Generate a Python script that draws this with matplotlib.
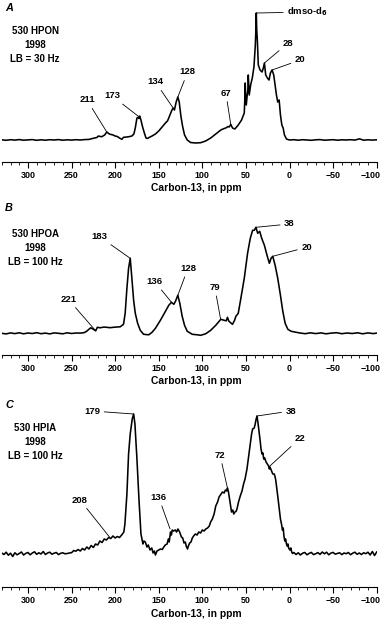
import matplotlib
matplotlib.use("Agg")
import matplotlib.pyplot as plt
from matplotlib.ticker import MultipleLocator
from matplotlib.transforms import ScaledTranslation

plt.rcParams['font.family'] = ['Liberation Sans Narrow', 'Liberation Sans', 'DejaVu Sans']
plt.rcParams['font.weight'] = 'bold'

W, H = 384, 622

# ---- spectrum A: 530 HPON, LB = 30 Hz ----
a_ppm = [330, 325, 320, 315, 310, 305, 300, 295, 290, 285, 280, 275, 270, 265, 260, 255, 250, 245, 240, 235, 230, 226,
         221, 219.2, 217, 215.4, 212, 209.6, 207.5, 205.8, 203, 200, 197.5, 195, 192.3, 190.4, 188.5, 186.5, 183, 180.8,
         178.5, 176.9, 175, 173.5, 172.7, 171.9, 170.4, 168.5, 166.5, 164.6, 163, 161.5, 157.7, 153.8, 150, 146.2, 142.3,
         140, 138.5, 135.8, 134.5, 133.5, 132, 130, 128.1, 126.5, 124.6, 122.7, 120.4, 117.3, 113.5, 107.7, 101.9, 96.2,
         90.4, 84.6, 78.8, 75, 73.1, 70.5, 69.2, 67.3, 65.4, 62.7, 58.8, 55, 51.9, 51.2, 50.8, 50.2, 49.6, 48.5, 47.8,
         47.3, 46.2, 44.6, 42.7, 40.8, 39.2, 38.4, 38.1, 37.6, 36.9, 35.8, 33.8, 31.5, 30, 28.8, 27.3, 25.4, 23.5, 21.9,
         20, 18.1, 16.5, 15, 13.5, 11.9, 10.4, 8.8, 7.3, 5.8, 3.5, 0, -5, -10, -15, -20, -25, -30, -35, -40, -45, -50,
         -55, -60, -65, -70, -75, -78, -80, -83, -85, -90, -95, -100]
a_int = [0.2, -0.3, 0.3, -0.1, 0.4, -0.2, 0.1, 0.4, -0.3, 0.2, -0.2, 0.3, 0.0, 0.4, -0.2, 0.2, -0.1, 0.3, 0.0, 0.4, 0.6, 1.5,
         2.5, 4.0, 3.5, 3.3, 5.0, 8.0, 6.5, 5.7, 5.2, 4.0, 3.5, 2.0, 0.7, 2.7, 2.8, 3.0, 3.5, 4.0,
         6.0, 12.0, 22.0, 22.7, 21.5, 24.0, 20.0, 13.0, 7.0, 2.0, 1.5, 2.3, 4.0, 6.0, 9.0, 13.0, 17.0,
         19.0, 22.0, 28.0, 30.5, 32.0, 30.0, 38.0, 43.0, 38.0, 24.0, 14.0, 5.0, 0.0, -2.5, -3.0, -2.7, -1.0,
         2.0, 6.0, 10.0, 11.5, 12.0, 13.5, 13.0, 15.5, 12.0, 11.0, 15.0, 20.0, 27.0, 42.0, 57.0, 40.0, 35.0, 45.0, 50.0,
         65.0, 45.0, 55.0, 62.0, 73.0, 95.0, 115.0, 127.0, 110.0, 100.0, 75.0, 70.0, 68.0, 72.0, 77.0, 65.0, 62.0, 60.0, 67.0,
         70.0, 65.0, 55.0, 45.0, 38.0, 40.0, 25.0, 15.0, 12.0, 5.0, 1.0, 0.0, 0.3, -0.2, 0.3, 0.0, -0.3, 0.2, 0.4, -0.2, 0.1, 0.3,
         -0.2, 0.2, 0.0, 0.3, -0.1, 0.6, 1.2, 0.4, -0.2, 0.2, -0.1, 0.2]

# ---- spectrum B: 530 HPOA, LB = 100 Hz ----
b_ppm = [330, 325, 320, 315, 310, 305, 300, 295, 290, 285, 280, 275, 270, 265, 260, 255, 250, 245, 240, 236.5,
         234.6, 232, 230.8, 228, 225, 222.3, 220.4, 217.3, 213, 209.6, 206, 201.9, 198, 194.2, 190.4, 188.5, 186.5,
         184.6, 182.7, 180.8, 178.8, 176.9, 174.2, 171.2, 167.3, 161.5, 157.7, 153.8, 148.1, 142.3, 138.5, 135.4,
         132.7, 130.8, 128.1, 125.8, 123.1, 120.4, 117.3, 111.5, 105.8, 101.9, 96.2, 90.4, 84.6, 78.8, 75, 72.5, 71.2,
         69.5, 68.1, 65.4, 63, 61.5, 58.8, 55.8, 51.9, 48.1, 45, 42.3, 40.4, 38.5, 36.5, 34.2, 31.9, 28.8, 25.8, 23.1,
         21.2, 19.2, 16.5, 13.5, 10.4, 7.7, 5, 1.9, -1.9, -7.7, -12, -18, -24, -30, -36, -42, -48, -54, -60, -66, -72,
         -78, -84, -90, -96, -100]
b_int = [0.0, -0.6, 0.4, -0.3, 0.5, -0.5, 0.3, -0.2, 0.6, -0.4, 0.2, -0.6, 0.4, 0.0, -0.5, 0.5, -0.2, 0.3, 0.2, 0.5,
         1.0, 2.5, 3.5, 5.5, 4.0, 2.5, 6.0, 5.5, 6.2, 6.0, 5.6, 6.0, 6.3, 6.5, 9.0, 20.0, 45.0,
         65.0, 75.0, 55.0, 33.0, 20.0, 10.0, 3.0, -1.0, -1.5, 1.0, 5.0, 13.0, 22.0, 28.0, 31.0,
         29.0, 32.0, 38.0, 30.0, 17.0, 8.0, 2.0, -1.0, -1.5, -2.0, -0.5, 3.0, 8.0, 14.0, 13.0, 12.5, 16.0,
         12.0, 11.0, 9.0, 13.0, 17.0, 20.0, 35.0, 55.0, 80.0, 95.0, 103.0, 103.0, 106.0, 100.0, 102.0, 95.0, 88.0, 78.0, 70.0,
         75.0, 77.0, 68.0, 55.0, 38.0, 22.0, 10.0, 4.0, 2.0, 1.0, 0.3, -0.4, 0.5, -0.3, 0.4, -0.5, 0.2, 0.6, -0.4, 0.3, -0.2,
         0.5, -0.5, 0.4, -0.3, 0.2]

# ---- spectrum C: 530 HPIA, LB = 100 Hz ----
c_ppm = [330, 327.5, 325, 322.5, 320, 317.5, 315, 312.5, 310, 307.5, 305, 302.5, 300, 297.5, 295, 292.5, 290, 287.5,
         285, 282.5, 280, 277.5, 275, 272.5, 270, 267.5, 265, 262.5, 260, 257.5, 255, 252.5, 250, 247.5, 245, 242.5,
         240, 237.5, 235, 232.5, 230, 227.5, 225, 222.5, 220, 217.5, 215, 212.5, 210, 207.5, 205, 202.5, 200, 197.5,
         195, 192.5, 190, 188.8, 186.5, 184.6, 182.7, 180.4, 179.5, 178.8, 177.3, 175, 172.7, 170.4, 168.1, 167, 165.4,
         163.5, 162, 160, 158, 156.5, 155, 153.8, 152, 150, 148, 146, 144.2, 142.5, 140.4, 139, 138, 136.5, 135.5,
         134.5, 133, 131, 129.5, 128, 126, 124, 122.5, 121, 119.5, 118.5, 117, 116, 114.5, 113, 111.5, 110, 108, 106,
         104, 102, 100, 98, 96, 94, 92, 90.5, 88.5, 86.5, 84.6, 82.5, 80.8, 78.5, 76.9, 75, 73.5, 72, 71.2, 70, 68.8,
         67.5, 66.5, 65, 64, 62.5, 61, 60, 58.5, 56.5, 54.5, 52.7, 51, 48.8, 47, 45, 43.5, 42.3, 40.5, 39.6, 38.5, 37.3,
         36, 34.6, 33.5, 32.7, 31.5, 30.5, 29.6, 28.5, 26.9, 25.5, 24, 23.1, 22.5, 21, 19.2, 17.5, 16.5, 15.8, 14.5,
         13.1, 11.8, 10.4, 9.2, 8.1, 7.2, 6.4, 5.4, 4.5, 3.5, 2.7, 1.8, 1, -0.4, -1.5, -2.5, -3.5, -5, -7.5, -10, -12.5,
         -15, -17.5, -20, -22.5, -25, -27.5, -30, -32.5, -35, -37.5, -40, -42.5, -45, -47.5, -50, -52.5, -55, -57.5,
         -60, -62.5, -65, -67.5, -70, -72.5, -75, -77.5, -80, -82.5, -85, -87.5, -90, -92.5, -95, -97.5, -100]
c_int = [1.0, -0.5, 1.8, -1.2, 0.8, -2.5, 1.2, -0.8, 0.5, 2.0, -1.0, 0.6, 1.5, -0.8, 1.0, 2.2, -0.3, 1.2,
         0.0, 2.5, -0.5, 1.0, 1.8, -0.2, 0.8, 1.5, -0.6, 0.7, 1.2, 0.2, 0.5, 1.0, 1.3, 3.5, 2.8, 4.5,
         3.0, 5.5, 4.0, 7.0, 5.0, 8.5, 6.5, 10.0, 9.0, 13.0, 11.5, 15.0, 14.0, 16.5, 15.5, 18.0, 16.0, 17.5,
         16.5, 19.0, 22.0, 30.0, 60.0, 100.0, 120.0, 135.0, 138.0, 140.0, 130.0, 95.0, 55.0, 20.0, 10.0, 13.0, 12.0,
         7.0, 9.0, 4.0, 6.0, 1.0, 3.0, -1.0, 3.0, 4.0, 5.0, 4.5, 7.0, 9.0, 10.0, 15.0, 12.0, 22.0, 19.0,
         24.0, 23.0, 24.0, 22.0, 25.0, 22.0, 17.0, 16.0, 11.0, 12.0, 8.0, 5.0, 8.0, 11.0, 12.0, 16.0, 18.0, 20.0, 19.0,
         22.0, 21.0, 24.0, 23.0, 25.0, 26.0, 28.0, 32.0, 35.0, 40.0, 48.0, 52.0, 57.0, 60.0, 62.0, 61.0, 64.0, 63.0, 66.0, 62.0, 55.0,
         47.0, 42.0, 44.0, 40.0, 42.0, 43.0, 46.0, 52.0, 58.0, 63.0, 70.0, 75.0, 85.0, 97.0, 110.0, 120.0, 125.0, 126.0, 129.0, 134.0, 138.0,
         130.0, 120.0, 112.0, 105.0, 100.0, 101.0, 95.0, 96.0, 92.0, 90.0, 88.0, 85.0, 87.0, 84.0, 80.0, 80.0, 77.0, 74.0, 65.0,
         55.0, 45.0, 35.0, 30.0, 24.0, 26.0, 18.0, 13.0, 15.0, 10.0, 8.0, 10.0, 6.0, 4.0, 6.0, 2.0, 0.5, 1.5, -0.5, 1.2, -1.0,
         0.8, 1.5, -0.8, 0.6, 1.6, -0.6, 0.2, 1.4, -0.4, 2.0, 0.2, 1.8, -0.8, 0.9, 1.6, -0.2, 0.6, 1.2,
         -0.6, 1.0, 0.3, 1.5, -0.7, 0.8, 1.8, -0.3, 1.0, -0.5, 1.2, 0.3, 1.8, -1.0, 2.5, -1.5, 2.0]

# panel texts and peak labels: (label, peak ppm, peak height, text ppm, text height, ha)
panels = [
    dict(letter='A', info='530 HPON\n1998\nLB = 30 Hz', ppm=a_ppm, inten=a_int,
         top=3, axis=161.7, base=140.0, info_y=45,
         peaks=[('211', 209.6, 8, 232.3, 40, 'center'),
                ('173', 172.3, 23, 203.5, 44, 'center'),
                ('134', 133.5, 32, 153.8, 58, 'center'),
                ('128', 128.1, 43, 116.8, 68, 'center'),
                ('67', 67.3, 15, 73.0, 47, 'center'),
                ('dmso-d$_6$', 38.1, 127, 2.5, 128, 'left'),
                ('28', 28.8, 77, 1.5, 97, 'center'),
                ('20', 20.0, 70, -12.3, 80, 'center')]),
    dict(letter='B', info='530 HPOA\n1998\nLB = 100 Hz', ppm=b_ppm, inten=b_int,
         top=203, axis=355.0, base=333.3, info_y=248,
         peaks=[('221', 222.3, 2.5, 253.8, 34, 'center'),
                ('183', 182.7, 75, 218.0, 96.7, 'center'),
                ('136', 135.4, 31, 154.6, 51.7, 'center'),
                ('128', 128.1, 38, 116.5, 65, 'center'),
                ('79', 79.0, 14, 85.7, 46, 'center'),
                ('38', 38.5, 106, 6.1, 109.3, 'left'),
                ('20', 19.2, 77, -13.5, 86, 'left')]),
    dict(letter='C', info='530 HPIA\n1998\nLB = 100 Hz', ppm=c_ppm, inten=c_int,
         top=400, axis=587.3, base=554.0, info_y=442,
         peaks=[('179', 178.8, 140, 217.2, 143, 'right'),
                ('208', 206.5, 17, 240.3, 54, 'center'),
                ('136', 137.0, 25, 150.0, 56.7, 'center'),
                ('72', 71.2, 66, 79.7, 99, 'center'),
                ('38', 37.3, 138, 4.6, 143, 'left'),
                ('22', 22.5, 88, -5.8, 115.7, 'left')]),
]

x0, x1 = 1.8, 376.7
fig = plt.figure(figsize=(W / 100, H / 100), dpi=100)

for p in panels:
    ax = fig.add_axes([x0 / W, 1 - p['axis'] / H, (x1 - x0) / W, (p['axis'] - p['top']) / H])
    ax.plot(p['ppm'], p['inten'], color='black', lw=1.15)
    ax.set_xlim(330, -100)
    ax.set_ylim(-(p['axis'] - p['base']), p['base'] - p['top'])
    for s in ['top', 'left', 'right']:
        ax.spines[s].set_visible(False)
    ax.spines['bottom'].set_linewidth(0.8)
    ax.set_yticks([])
    ax.xaxis.set_minor_locator(MultipleLocator(10))
    ax.set_xticks(range(300, -101, -50))
    ax.tick_params(axis='x', which='major', length=4, width=0.8, pad=2.5, labelsize=6.4)
    ax.tick_params(axis='x', which='minor', length=2, width=0.6)
    labels = ax.get_xticklabels()
    for t in labels:
        t.set_fontweight('bold')
    labels[-1].set_ha('right')
    labels[-1].set_transform(labels[-1].get_transform() + ScaledTranslation(4 / 100, 0, fig.dpi_scale_trans))
    ax.set_xlabel('Carbon-13, in ppm', fontsize=7.4, fontweight='bold')
    ax.xaxis.set_label_coords((196.7 - x0) / (x1 - x0), -26.5 / (p['axis'] - p['top']))
    ax.xaxis.label.set_va('center')

    for lab, px_, py_, tx, ty, ha in p['peaks']:
        ax.annotate(lab, xy=(px_, py_), xytext=(tx, ty), ha=ha, va='center',
                    fontsize=6.8, fontweight='bold', annotation_clip=False,
                    arrowprops=dict(arrowstyle='-', color='black', lw=0.6, shrinkA=1, shrinkB=0))

    fig.text(5 / W, 1 - (p['top'] + 5) / H, p['letter'], fontsize=7.8, fontweight='bold',
             fontstyle='italic', ha='left', va='center')
    fig.text(35 / W, 1 - p['info_y'] / H, p['info'], fontsize=7, fontweight='bold',
             ha='center', va='center', linespacing=1.5)

fig.savefig('out.png', dpi=100)
